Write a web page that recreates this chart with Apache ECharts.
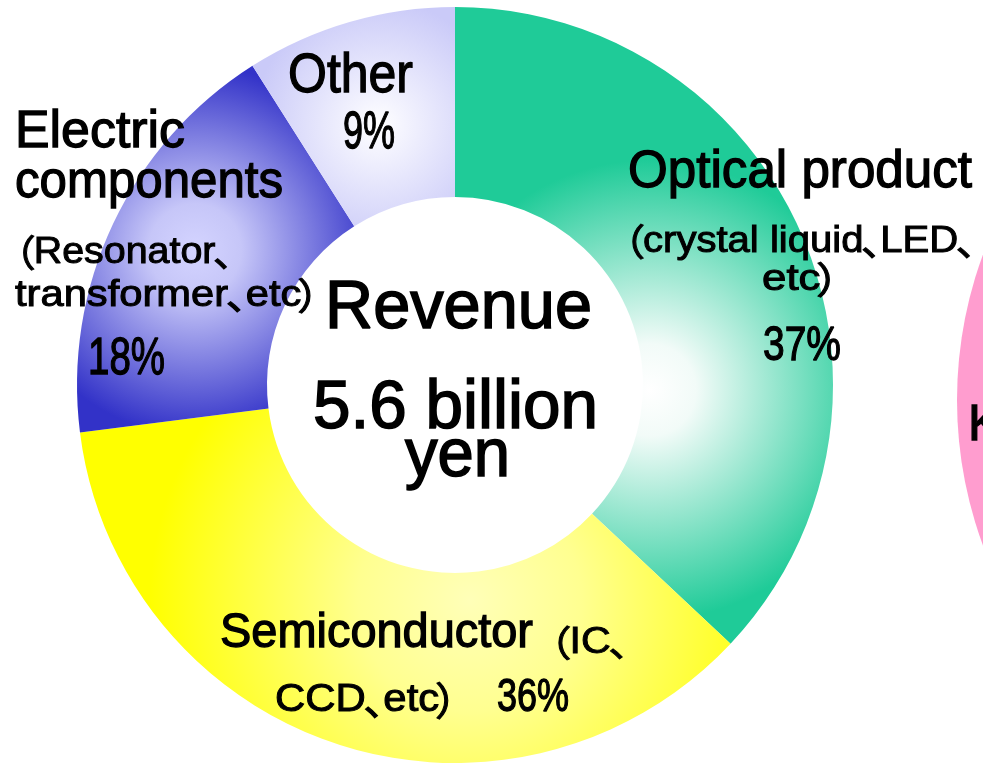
<!DOCTYPE html>
<html>
<head>
<meta charset="utf-8">
<script src="https://cdn.jsdelivr.net/npm/echarts@6/dist/echarts.min.js"></script>
<style>
  html, body { margin: 0; padding: 0; background: #ffffff; }
  #chart { width: 983px; height: 765px; }
</style>
</head>
<body>
<div id="chart"></div>
<script>
// ---- data ----
const categories = ['Optical product', 'Semiconductor', 'Electric components', 'Other'];
const shares = [37, 36, 18, 9];
const opticalDetail = ['（crystal liquid、LED、', 'etc）'];
const semiDetail = ['（IC、', 'CCD、etc）'];
const electricName = ['Electric', 'components'];
const electricDetail = ['（Resonator、', 'transformer、etc）'];
const centerText = ['Revenue', '5.6 billion', 'yen'];
const neighbourShare = [100];
const neighbourText = ['K'];

// ---- rendering ----
const FONT = '"Liberation Sans", "Noto Sans CJK JP", sans-serif';
const CJK = '"Noto Sans CJK JP", sans-serif';
const mctx = document.createElement('canvas').getContext('2d');
// proportional spacing for full-width punctuation: shift of the glyph and advance, in em
const PUNCT = {
  '（': { shift: -0.55, adv: 0.40 },
  '）': { shift: -0.10, adv: 0.40 },
  '、': { shift: -0.06, adv: 0.42 }
};
function mkText(s, x, y, sx, font, lw) {
  return {
    type: 'text', x: x, y: y, scaleX: sx, z: 100, silent: true,
    style: { text: s, x: 0, y: 0, fill: '#000', stroke: '#000', lineWidth: lw, font: font,
             align: 'left', verticalAlign: 'middle', textAlign: 'left', textVerticalAlign: 'middle' }
  };
}
function txt(s, left, right, base, F, lw) {
  lw = lw == null ? 1.3 : lw;
  const font = F + 'px ' + FONT;
  const cfont = F + 'px ' + CJK;
  const segs = [];
  let run = '';
  for (const ch of s) {
    if (PUNCT[ch]) {
      if (run) { segs.push({ t: run }); run = ''; }
      segs.push({ t: ch, p: PUNCT[ch] });
    } else run += ch;
  }
  if (run) segs.push({ t: run });
  let total = 0;
  segs.forEach(sg => {
    sg.off = total;
    if (sg.p) { sg.w = sg.p.adv * F; }
    else { mctx.font = font; sg.w = mctx.measureText(sg.t).width; }
    total += sg.w;
  });
  const sx = right ? (right - left) / total : 1;
  const y = base - 0.33 * F;
  return segs.map(sg => sg.p
    ? mkText(sg.t, left + (sg.off + sg.p.shift * F) * sx, y, sx, cfont, lw)
    : mkText(sg.t, left + sg.off * sx, y, sx, font, lw));
}
const pct = v => v + '%';

const fills = [
  { type: 'radial', x: 650, y: 390, r: 230, global: true,
    colorStops: [{ offset: 0, color: '#ffffff' }, { offset: 0.2, color: '#f2fbf8' }, { offset: 1, color: '#1fcb98' }] },
  { type: 'radial', x: 470, y: 600, r: 320, global: true,
    colorStops: [{ offset: 0, color: '#ffffb8' }, { offset: 0.35, color: '#ffff90' }, { offset: 1, color: '#ffff00' }] },
  { type: 'radial', x: 195, y: 250, r: 185, global: true,
    colorStops: [{ offset: 0, color: '#d4d4ff' }, { offset: 0.25, color: '#c6c6f8' }, { offset: 1, color: '#3232c8' }] },
  { type: 'radial', x: 378, y: 125, r: 125, global: true,
    colorStops: [{ offset: 0, color: '#ffffff' }, { offset: 0.2, color: '#f4f4fe' }, { offset: 1, color: '#cacaf8' }] }
];

const graphics = [].concat(
  txt(categories[0], 628, 972, 190, 51),
  txt(opticalDetail[0], 627, 975, 254, 37, 1.0),
  txt(opticalDetail[1], 762, 838, 292, 37, 1.0),
  txt(pct(shares[0]), 763, 841, 363, 49),

  txt(categories[1], 220, 533, 650, 49),
  txt(semiDetail[0], 553, 628, 655, 36, 0.9),
  txt(semiDetail[1], 275, 456, 713, 39, 1.0),
  txt(pct(shares[1]), 497, 569, 713, 46),

  txt(electricName[0], 15, 185, 150, 52),
  txt(electricName[1], 15, 283, 200, 52),
  txt(electricDetail[0], 18, 232, 265, 37, 1.0),
  txt(electricDetail[1], 15, 318, 308, 37, 1.0),
  txt(pct(shares[2]), 88, 165, 377, 52),

  txt(categories[3], 288, 413, 95, 55),
  txt(pct(shares[3]), 343, 395, 151, 52),

  txt(centerText[0], 325, 592, 332, 68, 1.6),
  txt(centerText[1], 313, 598, 432, 69, 1.6),
  txt(centerText[2], 405, 510, 480, 68, 1.6),

  txt(neighbourText[0], 968, 0, 443, 50)
);

const chart = echarts.init(document.getElementById('chart'), null, { renderer: 'canvas' });
chart.setOption({
  backgroundColor: '#ffffff',
  animation: false,
  series: [
    {
      type: 'pie',
      center: [455, 385],
      radius: [188, 378],
      startAngle: 90,
      clockwise: true,
      avoidLabelOverlap: false,
      label: { show: false },
      labelLine: { show: false },
      emphasis: { disabled: true },
      silent: true,
      data: categories.map((c, i) => ({ name: c, value: shares[i], itemStyle: { color: fills[i], borderWidth: 0 } }))
    },
    {
      type: 'pie',
      center: [1377, 400],
      radius: [0, 420],
      label: { show: false },
      labelLine: { show: false },
      emphasis: { disabled: true },
      silent: true,
      data: neighbourShare.map(v => ({ name: 'next', value: v, itemStyle: { color: '#ff9dcf', borderWidth: 0 } }))
    }
  ],
  graphic: graphics
});
</script>
</body>
</html>
